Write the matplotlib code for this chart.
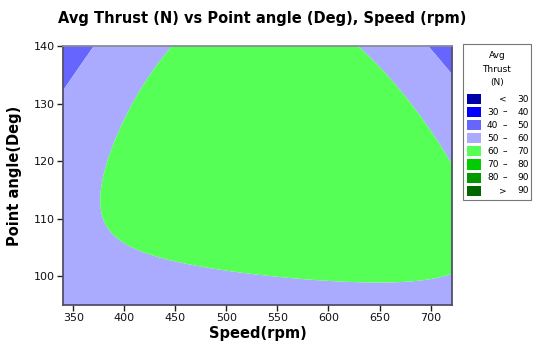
import matplotlib
matplotlib.use("Agg")
import matplotlib.pyplot as plt
from matplotlib.patches import Rectangle
import numpy as np

# points: (speed, angle, thrust)
c60_speed = [447, 427, 403, 386, 377, 373, 383, 398, 426, 468, 523, 628, 720, 636, 658, 687, 720]
c60_angle = [140, 135.3, 127.7, 122.5, 117.9, 113.3, 108.1, 105.7, 103.4, 101.7, 100.3, 99.3, 100.5, 140, 135.8, 128.9, 121.4]
c50_speed = [372, 340.5, 692, 720]
c50_angle = [140, 132.7, 140, 134.1]
in_speed = [550, 520, 600, 650, 500, 450, 600, 700]
in_angle = [125, 115, 120, 110, 135, 120, 135, 110]
in_thrust = [64.5, 64, 64, 62.5, 63.5, 62.5, 62.5, 61]
out_speed = [340, 340, 340, 400, 500, 600, 720, 720, 340, 360, 720]
out_angle = [95, 115, 125, 95, 95, 95, 95, 140, 140, 105, 128]
out_thrust = [53, 55, 53, 55, 57, 58, 58, 45, 46, 55, 56]

levels = [-1000, 30, 40, 50, 60, 70, 80, 90, 1000]
colors = ["#0000AA", "#0000FF", "#6666FF", "#AAAAFF", "#55FF55", "#00CC00", "#009900", "#006600"]
legend_lo = ["<", "30", "40", "50", "60", "70", "80", ">"]
legend_hi = ["30", "40", "50", "60", "70", "80", "90", "90"]

sp = np.array(c60_speed + c50_speed + in_speed + out_speed, float)
an = np.array(c60_angle + c50_angle + in_angle + out_angle, float)
th = np.array([60] * len(c60_speed) + [50] * len(c50_speed) + in_thrust + out_thrust, float)


def terms(s, a, deg=3):
    u = (np.asarray(s, float) - 530) / 100
    v = (np.asarray(a, float) - 120) / 10
    cols = [u ** i * v ** j for i in range(deg + 1) for j in range(deg + 1 - i)]
    return np.stack(cols, axis=-1)


# cubic response surface fitted to the points
w = np.where(np.abs(th - 60) < 0.01, 4.0, 1.0)
w[np.abs(th - 50) < 0.01] = 3.0
coef, *_ = np.linalg.lstsq(terms(sp, an) * w[:, None], th * w, rcond=None)

S, G = np.meshgrid(np.linspace(340, 721, 400), np.linspace(95, 140, 400))
T = terms(S, G) @ coef

W, H = 534, 349
fig = plt.figure(figsize=(W / 100, H / 100), dpi=100)
ax = fig.add_axes([63 / W, 1 - 305 / H, (452 - 63) / W, (305 - 46) / H])
ax.contourf(S, G, T, levels=levels, colors=colors, antialiased=True)
ax.set_xlim(340, 721)
ax.set_ylim(95, 140)
ax.set_xticks(np.arange(350, 701, 50))
ax.set_yticks(np.arange(100, 141, 10))
ax.tick_params(direction="out", length=4, width=1, labelsize=8, color="#222222", labelcolor="#111111", pad=2)
for sp_ in ax.spines.values():
    sp_.set_color("#50506a")
    sp_.set_linewidth(1.3)
ax.spines["top"].set_color("#8a8a9a")

fig.text(262 / W, 1 - 19 / H, "Avg Thrust (N) vs Point angle (Deg), Speed (rpm)",
         ha="center", va="center", fontsize=10.5, fontweight="bold")
ax.set_xlabel("Speed(rpm)", fontsize=10.5, fontweight="bold", labelpad=2)
ax.set_ylabel("Point angle(Deg)", fontsize=10.5, fontweight="bold", labelpad=8)


def px(x, y):
    return x / W, 1 - y / H


# legend box
x0, y0 = px(463, 200)
x1, y1 = px(531, 44)
fig.patches.append(Rectangle((x0, y0), x1 - x0, y1 - y0, transform=fig.transFigure,
                             facecolor="white", edgecolor="#777777", linewidth=0.8))
for i, line in enumerate(["Avg", "Thrust", "(N)"]):
    fig.text(*px(497, 56 + 13 * i), line, ha="center", va="center", fontsize=6.5)
for i, c in enumerate(colors):
    yc = 99 + 13.1 * i
    sx, sy = px(467, yc + 5)
    fig.patches.append(Rectangle((sx, sy), 14 / W, 10 / H, transform=fig.transFigure,
                                 facecolor=c, edgecolor="none"))
    if legend_lo[i] in ("<", ">"):
        fig.text(*px(503, yc), legend_lo[i], ha="center", va="center", fontsize=6.5)
    else:
        fig.text(*px(487, yc), legend_lo[i], ha="left", va="center", fontsize=6.5)
        fig.text(*px(505, yc), "\u2013", ha="center", va="center", fontsize=6.5)
    fig.text(*px(529, yc), legend_hi[i], ha="right", va="center", fontsize=6.5)

fig.savefig("out.png")
